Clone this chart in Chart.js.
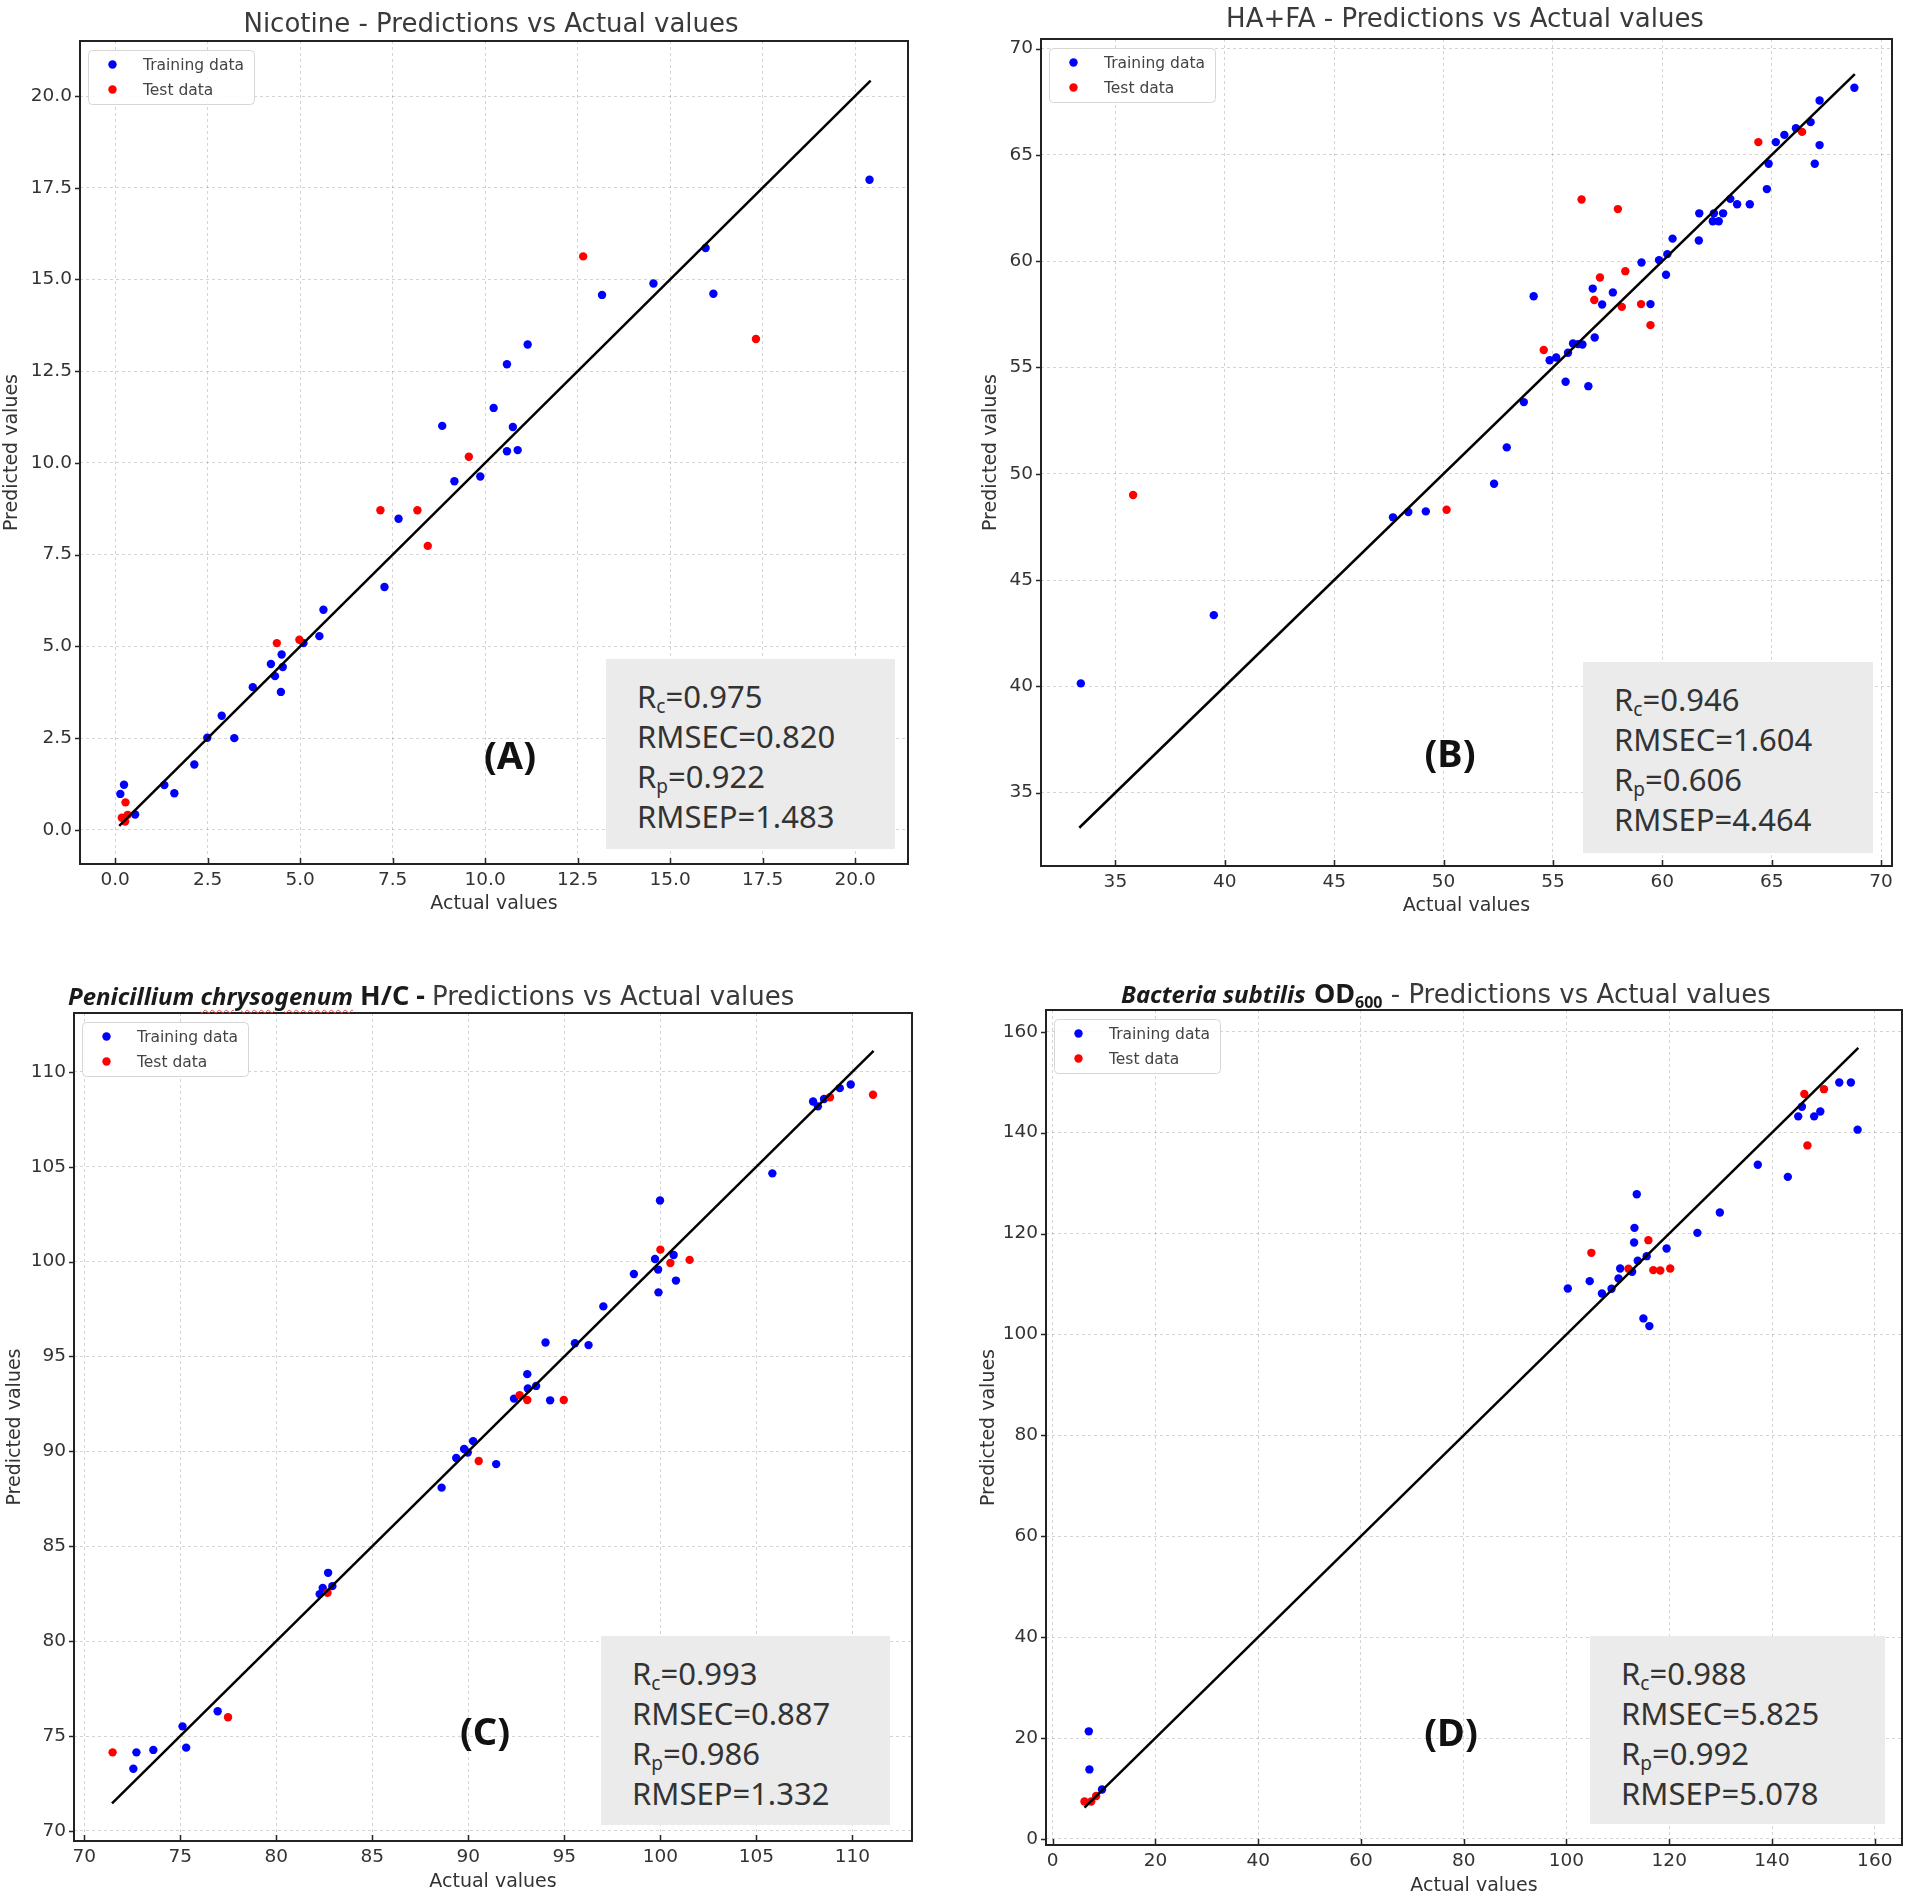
<!DOCTYPE html>
<html><head><meta charset="utf-8">
<script src="https://cdn.jsdelivr.net/npm/chart.js@4.4.1/dist/chart.umd.min.js"></script>
<style>
html,body{margin:0;padding:0;background:#fff;}
body{width:1908px;height:1898px;position:relative;overflow:hidden;}
.title{position:absolute;white-space:nowrap;font-family:'DejaVu Sans';font-size:26px;line-height:26px;color:#3a3a3a;}
.sp{font-family:'Noto Sans';font-weight:700;font-style:italic;color:#1a1a1a;font-size:24px;}
.sb{font-family:'Noto Sans';font-weight:700;color:#1a1a1a;font-size:27px;}
.sb sub{font-size:16px;vertical-align:-5px;line-height:0;}
.wavy{text-decoration:underline wavy #e04848;text-decoration-thickness:1px;text-underline-offset:4px;}
.stats{position:absolute;background:#ebebeb;font-family:'Noto Sans';font-size:31px;line-height:40px;color:#333;box-sizing:border-box;padding-left:31px;padding-top:17px;white-space:nowrap;}
.stats sub{font-size:19px;vertical-align:-5px;line-height:0;}
.letter{position:absolute;font-family:'Noto Sans';font-weight:700;font-size:38px;line-height:38px;color:#111;transform:translate(-50%,-50%);}
</style></head><body>
<script>
// ---------------- DATA ----------------
// Panel A: Nicotine
const ticksA = [0, 2.5, 5, 7.5, 10, 12.5, 15, 17.5, 20];
const rangeXA = [-0.95, 21.43];
const rangeYA = [-0.93, 21.5];
const lineA = [0.11, 20.42];
const trainXA = [0.14,0.24,0.54,1.33,1.60,2.14,2.49,2.88,3.22,3.72,4.21,4.32,4.50,4.53,4.48,5.09,5.52,5.63,7.28,7.66,8.84,9.17,9.87,10.23,10.59,10.59,10.75,10.88,11.15,13.16,14.55,15.96,16.17,20.39];
const trainYA = [0.98,1.23,0.42,1.22,1.00,1.78,2.51,3.11,2.50,3.89,4.52,4.19,4.78,4.44,3.76,5.09,5.28,6.00,6.62,8.48,11.01,9.50,9.63,11.50,12.69,10.32,10.98,10.35,13.23,14.58,14.89,15.86,14.61,17.72];
const testXA = [0.28,0.18,0.34,0.27,4.37,4.98,7.17,8.17,8.45,9.56,12.65,17.32];
const testYA = [0.75,0.33,0.41,0.23,5.09,5.18,8.71,8.71,7.74,10.17,15.63,13.38];
const statsA = ['0.975','0.820','0.922','1.483'];

// Panel B: HA+FA
const ticksB = [35, 40, 45, 50, 55, 60, 65, 70];
const rangeXB = [31.6, 70.5];
const rangeYB = [31.55, 70.45];
const lineB = [33.35, 68.8];
const trainXB = [33.42,39.50,47.69,48.39,49.19,52.31,52.89,53.67,54.12,54.85,55.15,55.58,55.69,55.92,56.15,56.35,56.62,56.91,56.82,57.25,57.74,59.05,59.46,59.85,60.17,60.23,60.47,61.67,61.69,62.36,62.31,62.58,62.78,63.11,63.42,64.00,64.78,64.86,65.19,65.58,66.11,66.78,66.97,67.19,67.19,68.78];
const trainYB = [40.14,43.35,47.95,48.20,48.23,49.53,51.24,53.37,58.35,55.34,55.47,54.33,55.69,56.13,56.10,56.08,54.12,56.41,58.71,57.96,58.53,59.94,57.98,60.05,59.36,60.33,61.06,60.97,62.25,62.25,61.88,61.88,62.25,62.93,62.68,62.68,63.39,64.58,65.60,65.94,66.25,66.54,64.58,65.46,67.56,68.16];
const testXB = [35.81,50.14,54.58,56.31,56.89,57.15,57.97,58.15,58.31,59.03,59.46,64.39,66.39];
const testYB = [49.00,48.31,55.82,62.90,58.17,59.23,62.45,57.85,59.53,57.98,56.99,65.60,66.08];
const statsB = ['0.946','1.604','0.606','4.464'];

// Panel C: Penicillium chrysogenum H/C
const ticksC = [70, 75, 80, 85, 90, 95, 100, 105, 110];
const rangeXC = [69.47, 113.1];
const rangeYC = [69.47, 113.1];
const lineC = [71.45, 111.1];
const trainXC = [72.56,72.72,73.60,75.12,75.31,76.95,82.26,82.42,82.70,82.92,88.61,89.37,89.78,89.97,90.25,91.45,92.38,93.10,93.53,93.07,94.02,94.26,95.55,96.26,97.03,98.62,99.72,99.88,99.90,99.98,100.69,100.81,105.83,107.95,108.20,108.52,109.34,109.91];
const trainYC = [73.28,74.14,74.27,75.51,74.39,76.31,82.48,82.80,83.60,82.90,88.09,89.65,90.13,89.94,90.54,89.33,92.78,93.31,93.45,94.07,95.74,92.69,95.70,95.60,97.64,99.35,100.14,99.58,98.38,103.22,100.35,99.00,104.65,108.44,108.18,108.57,109.14,109.33];
const testXC = [71.48,77.49,82.67,90.54,92.67,93.07,94.97,100.00,100.52,101.52,108.83,111.07];
const testYC = [74.14,75.99,82.55,89.49,92.96,92.71,92.71,100.63,99.93,100.09,108.66,108.79];
const statsC = ['0.993','0.887','0.986','1.332'];

// Panel D: Bacteria subtilis OD600
const ticksD = [0, 20, 40, 60, 80, 100, 120, 140, 160];
const rangeXD = [-1.3, 165.3];
const rangeYD = [-1.2, 164.3];
const lineD = [6.19, 156.8];
const trainXD = [7.03,7.15,9.60,100.26,104.52,106.90,108.77,110.13,110.45,112.77,113.16,113.23,113.68,113.87,115.61,114.97,116.13,119.48,125.48,129.85,137.24,143.08,145.10,145.82,148.20,149.40,153.09,155.35,156.66];
const trainYD = [21.33,13.78,9.80,109.11,110.56,108.12,109.04,111.09,113.07,112.41,118.22,121.12,127.79,114.59,115.51,103.17,101.65,117.03,120.13,124.16,133.63,131.23,143.22,145.13,143.22,144.17,149.93,149.93,140.58];
const testXD = [6.19,7.50,8.46,104.84,112.06,115.94,116.90,118.26,120.19,146.29,146.89,150.11];
const testYD = [7.43,7.43,8.51,116.17,113.00,118.68,112.74,112.67,113.07,147.65,137.46,148.61];
const statsD = ['0.988','5.825','0.992','5.078'];

// ---------------- LAYOUT (pixel geometry) ----------------
const LAYOUT = {
  A: {L:80, T:41, R:908, B:864, yTitleX:12, xTitleY:904, stats:[606,659,289,190], letter:[510,754]},
  B: {L:1041, T:39, R:1892, B:866, yTitleX:991, xTitleY:906, stats:[1583,662,290,191], letter:[1450,752]},
  C: {L:74, T:1013, R:912, B:1841, yTitleX:15, xTitleY:1882, stats:[601,1636,289,189], letter:[485,1730]},
  D: {L:1046, T:1010, R:1902, B:1845, yTitleX:989, xTitleY:1886, stats:[1590,1636,295,188], letter:[1451,1731]}
};

const pts = (xs, ys) => xs.map((x, i) => ({x: x, y: ys[i]}));

const framePlugin = {
  id: 'frameLegend',
  afterDraw(chart) {
    const ctx = chart.ctx, a = chart.chartArea, sx = chart.scales.x, sy = chart.scales.y;
    ctx.save();
    ctx.strokeStyle = '#262626'; ctx.lineWidth = 1.5;
    ctx.beginPath();
    sx.ticks.forEach(t => { const px = Math.round(sx.getPixelForValue(t.value)) + 0.5; ctx.moveTo(px, a.bottom); ctx.lineTo(px, a.bottom - 6); });
    sy.ticks.forEach(t => { const py = Math.round(sy.getPixelForValue(t.value)) + 0.5; ctx.moveTo(a.left, py); ctx.lineTo(a.left - 5, py); });
    ctx.stroke();
    ctx.lineWidth = 2; ctx.strokeStyle = '#222';
    ctx.strokeRect(a.left, a.top, a.right - a.left, a.bottom - a.top);
    // legend
    const items = chart.data.datasets.filter(d => d.label);
    const lx = a.left + 8, ly = a.top + 9, lw = 166, lh = 54;
    ctx.beginPath();
    if (ctx.roundRect) ctx.roundRect(lx + 0.5, ly + 0.5, lw, lh, 4); else ctx.rect(lx + 0.5, ly + 0.5, lw, lh);
    ctx.fillStyle = 'rgba(255,255,255,0.85)'; ctx.fill();
    ctx.strokeStyle = '#d6d6d6'; ctx.lineWidth = 1; ctx.stroke();
    ctx.font = '15.5px "DejaVu Sans"'; ctx.textBaseline = 'middle'; ctx.textAlign = 'left';
    items.forEach((d, i) => {
      const cy = ly + 14.5 + i * 25;
      ctx.beginPath(); ctx.arc(lx + 24.5, cy, 4.2, 0, Math.PI * 2);
      ctx.fillStyle = d.backgroundColor; ctx.fill();
      ctx.fillStyle = '#444'; ctx.fillText(d.label, lx + 55, cy + 1);
    });
    ctx.restore();
  }
};

function makePanel(p) {
  const g = p.layout;
  const cl = Math.round(g.yTitleX - 11.4), ct = g.T - 12, cr = g.R + 6, cb = Math.round(g.xTitleY + 11.4);
  const W = cr - cl, H = cb - ct;
  const canvas = document.createElement('canvas');
  canvas.width = W; canvas.height = H;
  canvas.style.cssText = 'position:absolute;left:' + cl + 'px;top:' + ct + 'px;width:' + W + 'px;height:' + H + 'px';
  document.body.appendChild(canvas);
  const tickFont = {family: 'DejaVu Sans', size: 18.5};
  const titleFont = {family: 'DejaVu Sans', size: 19};
  const zeroPad = s => { s.paddingLeft = 0; s.paddingRight = 0; s.paddingTop = 0; s.paddingBottom = 0; };
  new Chart(canvas, {
    type: 'scatter',
    data: {datasets: [
      {label: 'Training data', data: pts(p.trainX, p.trainY), backgroundColor: '#0000ff', borderWidth: 0, pointRadius: 4.2, order: 2},
      {label: 'Test data', data: pts(p.testX, p.testY), backgroundColor: '#ff0000', borderWidth: 0, pointRadius: 4.2, order: 1},
      {label: '', data: p.line.map(v => ({x: v, y: v})), showLine: true, borderColor: '#000', backgroundColor: '#000', borderWidth: 2.5, pointRadius: 0, fill: false, order: 0}
    ]},
    options: {
      responsive: false, animation: false, devicePixelRatio: 1,
      layout: {padding: {left: 0, top: g.T - ct, right: cr - g.R, bottom: 0}},
      plugins: {legend: {display: false}, tooltip: {enabled: false}, title: {display: false}},
      scales: {
        x: {
          type: 'linear', position: 'bottom', min: p.rangeX[0], max: p.rangeX[1],
          afterBuildTicks: s => { s.ticks = p.ticks.map(v => ({value: v})); },
          afterFit: s => { s.height = cb - g.B; zeroPad(s); },
          ticks: {font: tickFont, color: '#333', padding: 5, maxRotation: 0, autoSkip: false, callback: v => p.fmt(v)},
          grid: {color: 'rgba(0,0,0,0.17)', lineWidth: 1, drawTicks: false},
          border: {display: false, dash: [3, 3]},
          title: {display: true, text: 'Actual values', font: titleFont, color: '#333', padding: 0}
        },
        y: {
          type: 'linear', position: 'left', min: p.rangeY[0], max: p.rangeY[1],
          afterBuildTicks: s => { s.ticks = p.ticks.map(v => ({value: v})); },
          afterFit: s => { s.width = g.L - cl; zeroPad(s); },
          ticks: {font: tickFont, color: '#333', padding: 8, autoSkip: false, callback: v => p.fmt(v)},
          grid: {color: 'rgba(0,0,0,0.17)', lineWidth: 1, drawTicks: false},
          border: {display: false, dash: [3, 3]},
          title: {display: true, text: 'Predicted values', font: titleFont, color: '#333', padding: 0}
        }
      }
    },
    plugins: [framePlugin]
  });
  // statistics box
  const s = document.createElement('div');
  s.className = 'stats';
  s.style.left = g.stats[0] + 'px'; s.style.top = g.stats[1] + 'px';
  s.style.width = g.stats[2] + 'px'; s.style.height = g.stats[3] + 'px';
  s.innerHTML = 'R<sub>c</sub>=' + p.stats[0] + '<br>RMSEC=' + p.stats[1] + '<br>R<sub>p</sub>=' + p.stats[2] + '<br>RMSEP=' + p.stats[3];
  document.body.appendChild(s);
  const l = document.createElement('div');
  l.className = 'letter';
  l.style.left = g.letter[0] + 'px'; l.style.top = g.letter[1] + 'px';
  l.textContent = '(' + p.id + ')';
  document.body.appendChild(l);
}

const f1 = v => v.toFixed(1), f0 = v => String(v);
makePanel({id:'A', layout:LAYOUT.A, ticks:ticksA, rangeX:rangeXA, rangeY:rangeYA, line:lineA, trainX:trainXA, trainY:trainYA, testX:testXA, testY:testYA, stats:statsA, fmt:f1});
makePanel({id:'B', layout:LAYOUT.B, ticks:ticksB, rangeX:rangeXB, rangeY:rangeYB, line:lineB, trainX:trainXB, trainY:trainYB, testX:testXB, testY:testYB, stats:statsB, fmt:f0});
makePanel({id:'C', layout:LAYOUT.C, ticks:ticksC, rangeX:rangeXC, rangeY:rangeYC, line:lineC, trainX:trainXC, trainY:trainYC, testX:testXC, testY:testYC, stats:statsC, fmt:f0});
makePanel({id:'D', layout:LAYOUT.D, ticks:ticksD, rangeX:rangeXD, rangeY:rangeYD, line:lineD, trainX:trainXD, trainY:trainYD, testX:testXD, testY:testYD, stats:statsD, fmt:f0});
</script>
<div class="title" style="left:491px;top:10px;transform:translateX(-50%)">Nicotine - Predictions vs Actual values</div>
<div class="title" style="left:1465px;top:5px;transform:translateX(-50%)">HA+FA - Predictions vs Actual values</div>
<div class="title" style="left:68px;top:982px"><span class="sp">Penicillium <span class="wavy">chrysogenum</span></span><span class="sb"> H/C - </span>Predictions vs Actual values</div>
<div class="title" style="left:1121px;top:980px"><span class="sp">Bacteria subtilis</span> <span class="sb">OD<sub>600</sub></span> - Predictions vs Actual values</div>
</body></html>
